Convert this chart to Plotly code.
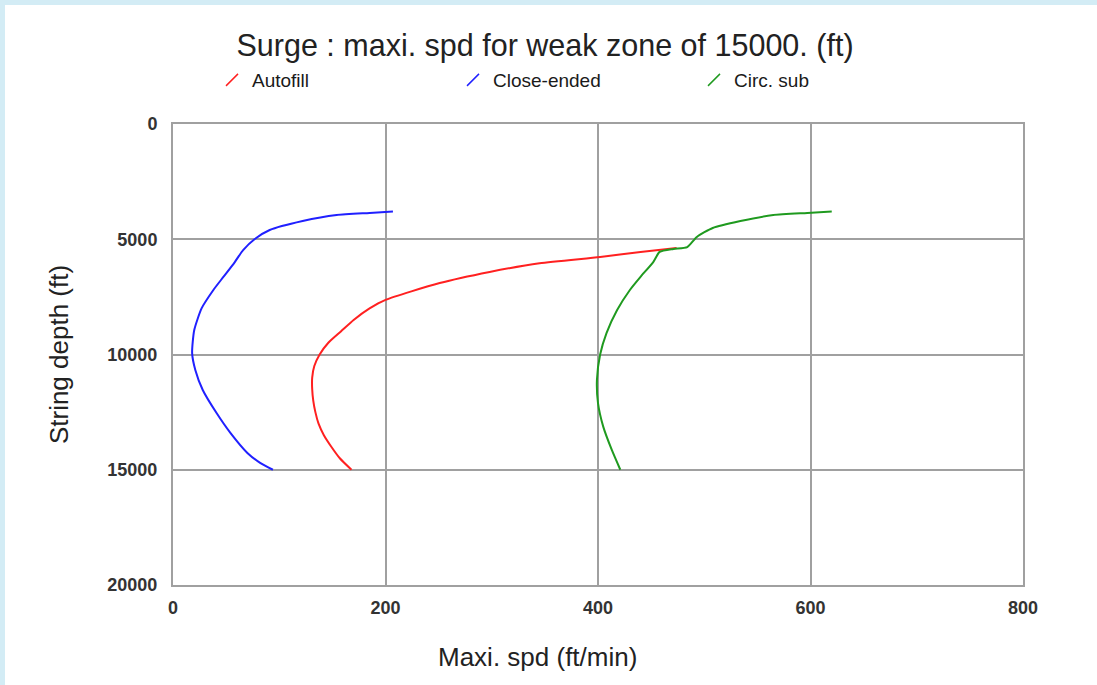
import plotly.graph_objects as go

# ---- data ----
close_x = [207, 185, 154, 122, 91, 77, 66, 58, 48, 38, 27, 20, 18, 21, 28, 41, 54, 70, 82, 94]
close_y = [3800, 3860, 3950, 4210, 4600, 4990, 5470, 6000, 6600, 7200, 7990, 8940, 9940, 10670, 11540, 12540, 13400, 14270, 14700, 15000]

auto_x = [474, 440, 402, 345, 298, 251, 200, 185, 170, 158, 146, 138, 133, 131, 131, 132, 134, 137, 142, 149, 157, 168]
auto_y = [5380, 5550, 5770, 6040, 6420, 6900, 7630, 8000, 8500, 9000, 9500, 10000, 10500, 11000, 11500, 12000, 12500, 13000, 13500, 14000, 14500, 15000]

circ_x = [620, 597, 565, 534, 508, 493, 484, 471, 458, 452, 440, 430, 418, 408, 402, 399, 400, 405, 413, 421]
circ_y = [3800, 3860, 3950, 4210, 4510, 4900, 5340, 5420, 5550, 5990, 6630, 7200, 8070, 9070, 10000, 11100, 12110, 13140, 14140, 15000]

series_names = ["Autofill", "Close-ended", "Circ. sub"]
series_colors = ["#ff2020", "#2020ff", "#1f9a1f"]
x_ticks = [0, 200, 400, 600, 800]
y_ticks = [0, 5000, 10000, 15000, 20000]

title_text = "Surge : maxi. spd for weak zone of 15000. (ft)"
x_title = "Maxi. spd (ft/min)"
y_title = "String depth (ft)"

FONT = "Liberation Sans, Arial, sans-serif"
W, H = 1097, 685
ML, MR, MT, MB = 173, 74, 124, 100
PW, PH = W - ML - MR, H - MT - MB

fig = go.Figure()
data = [(auto_x, auto_y), (close_x, close_y), (circ_x, circ_y)]
for (xs, ys), name, col in zip(data, series_names, series_colors):
    fig.add_trace(go.Scatter(x=xs, y=ys, mode="lines", name=name,
                             line=dict(color=col, width=2, shape="spline", smoothing=0.6),
                             showlegend=False))
    # legend entry with slash marker
    fig.add_trace(go.Scatter(x=[None], y=[None], mode="markers", name=name,
                             marker=dict(symbol="line-ne", size=12, color=col,
                                         line=dict(color=col, width=1.5)),
                             showlegend=True))

def px_x(px):
    return (px - ML) / PW

def px_y(py):
    return (H - MB - py) / PH

# light-blue frame with white panel
fig.add_shape(type="rect", xref="paper", yref="paper",
              x0=px_x(5), x1=px_x(W + 20), y0=px_y(H + 20), y1=px_y(5),
              fillcolor="white", line=dict(width=0), layer="below")

axis_common = dict(showgrid=True, gridcolor="#a0a0a0", gridwidth=2,
                   showline=True, linecolor="#a0a0a0", linewidth=2, mirror=True,
                   zeroline=False, ticks="",
                   tickfont=dict(family="Liberation Sans", size=18, color="#333333", weight="bold"),
                   title_font=dict(family=FONT, size=26, color="#222222"))

fig.update_xaxes(range=[0, 800], tickvals=x_ticks, ticktext=[str(v) for v in x_ticks],
                 ticklabelstandoff=5, **axis_common)
fig.update_yaxes(range=[20000, 0], tickvals=y_ticks, ticktext=[str(v) for v in y_ticks],
                 ticklabelstandoff=10, title_text=y_title, title_standoff=31, **axis_common)

# x-axis title (offset left of plot centre as in the original)
fig.add_annotation(text=x_title, xref="paper", yref="paper", x=px_x(537), y=px_y(657),
                   xanchor="center", yanchor="middle", showarrow=False,
                   font=dict(family=FONT, size=26, color="#222222"))

fig.update_layout(
    width=W, height=H,
    margin=dict(l=ML, r=MR, t=MT, b=MB, autoexpand=False),
    paper_bgcolor="#d3ecf5", plot_bgcolor="white",
    title=dict(text=title_text, x=545 / W, xanchor="center", y=1 - 45 / H, yanchor="middle",
               font=dict(family=FONT, size=30.5, color="#222222")),
    legend=dict(orientation="h", x=px_x(212), xanchor="left", y=px_y(80), yanchor="middle",
                bgcolor="rgba(0,0,0,0)", font=dict(family=FONT, size=19, color="#1a1a1a"),
                entrywidth=196, entrywidthmode="pixels", itemwidth=30),
)

fig.write_html("out.html", config={"displayModeBar": False},
               post_script="document.body.style.margin='0';document.body.style.overflow='hidden';")
